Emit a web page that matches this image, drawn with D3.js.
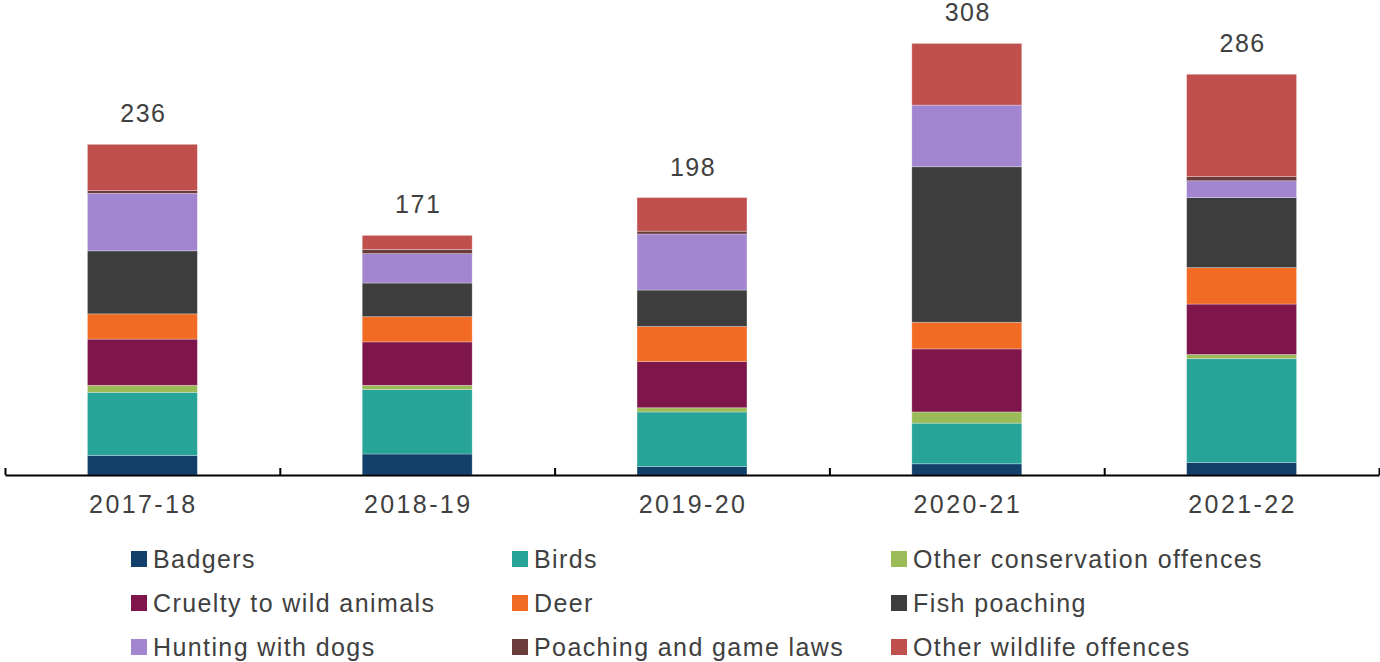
<!DOCTYPE html>
<html>
<head>
<meta charset="utf-8">
<script src="https://cdn.jsdelivr.net/npm/d3@7"></script>
<style>
  body { margin: 0; background: #fff; }
  svg text { font-family: "Liberation Sans", Arial, sans-serif; fill: #404040; }
</style>
</head>
<body>
<div id="chart"></div>
<script>
var years = ['2017-18', '2018-19', '2019-20', '2020-21', '2021-22'];

var badgers = [14, 15, 6, 8, 9];
var birds = [45, 46, 39, 29, 74];
var otherConservation = [5, 3, 3, 8, 3];
var cruelty = [33, 31, 33, 45, 36];
var deer = [18, 18, 25, 19, 26];
var fishPoaching = [45, 24, 26, 111, 50];
var hunting = [41, 21, 40, 44, 12];
var poachingGame = [2, 3, 2, 0, 3];
var otherWildlife = [33, 10, 24, 44, 73];

var seriesNames = ['Badgers', 'Birds', 'Other conservation offences', 'Cruelty to wild animals', 'Deer',
    'Fish poaching', 'Hunting with dogs', 'Poaching and game laws', 'Other wildlife offences'];
var seriesValues = [badgers, birds, otherConservation, cruelty, deer, fishPoaching, hunting, poachingGame, otherWildlife];
var seriesColours = ['#12406a', '#27a397', '#9bbb59', '#7f164b', '#f26b25', '#3d3d3d', '#a185cf', '#6b3a3a', '#c0504d'];

var width = 1380, height = 662;
var baseline = 475;

// table rows for d3.stack
var rows = years.map(function (y, i) {
    var row = { year: y };
    seriesNames.forEach(function (name, s) { row[name] = seriesValues[s][i]; });
    return row;
});
var totals = years.map(function (y, i) {
    return d3.sum(seriesValues, function (v) { return v[i]; });
});

var svg = d3.select('#chart').append('svg')
    .attr('width', width)
    .attr('height', height);

var x = d3.scaleBand()
    .domain(years)
    .range([5, 1379])
    .paddingInner(0.6)
    .paddingOuter(0.3);

var y = d3.scaleLinear()
    .domain([0, 339])
    .range([baseline, 0]);

var colour = d3.scaleOrdinal().domain(seriesNames).range(seriesColours);

var stacked = d3.stack().keys(seriesNames)(rows);

svg.append('g').selectAll('g')
    .data(stacked)
    .enter().append('g')
    .attr('fill', function (d) { return colour(d.key); })
    .selectAll('rect')
    .data(function (d) { return d; })
    .enter().append('rect')
    .attr('x', function (d) { return x(d.data.year); })
    .attr('width', x.bandwidth())
    .attr('y', function (d) { return y(d[1]); })
    .attr('height', function (d) { return y(d[0]) - y(d[1]); })
    .attr('stroke', 'rgba(255,255,255,0.35)')
    .attr('stroke-width', 0.8);

// totals above bars
svg.append('g').selectAll('text')
    .data(years)
    .enter().append('text')
    .attr('x', function (d) { return x(d) + x.bandwidth() / 2 + 1; })
    .attr('y', function (d, i) { return y(totals[i]) - 22; })
    .attr('text-anchor', 'middle')
    .attr('font-size', 25)
    .attr('letter-spacing', 1.5)
    .text(function (d, i) { return totals[i]; });

// category boundary ticks + axis line
var edges = d3.scaleLinear().domain([0, years.length]).range([5, 1379]);
svg.append('g')
    .attr('transform', 'translate(0,' + baseline + ')')
    .call(d3.axisTop(edges).tickValues(d3.range(years.length + 1)).tickFormat('').tickSize(7).tickSizeOuter(0))
    .call(function (g) {
        g.select('.domain').attr('stroke', '#000').attr('stroke-width', 2);
        g.selectAll('.tick line').attr('stroke', '#000').attr('stroke-width', 2);
    });

// category labels
svg.append('g')
    .attr('transform', 'translate(1,' + baseline + ')')
    .call(d3.axisBottom(x).tickSize(0).tickPadding(20))
    .call(function (g) {
        g.select('.domain').remove();
        g.selectAll('text').attr('font-size', 25).attr('letter-spacing', 2.4)
            .attr('font-family', null).attr('fill', null);
    });

// legend, 3 columns
var legendCols = [131, 512, 891];
var legendRows = [559, 603, 647];
var legend = svg.append('g').selectAll('g')
    .data(seriesNames)
    .enter().append('g')
    .attr('transform', function (d, i) {
        return 'translate(' + legendCols[i % 3] + ',' + legendRows[Math.floor(i / 3)] + ')';
    });

legend.append('rect')
    .attr('x', 0)
    .attr('y', -8)
    .attr('width', 16)
    .attr('height', 16)
    .attr('fill', function (d) { return colour(d); });

legend.append('text')
    .attr('x', 22)
    .attr('y', 9)
    .attr('font-size', 25)
    .attr('letter-spacing', 1.4)
    .text(function (d) { return d; });
</script>
</body>
</html>
